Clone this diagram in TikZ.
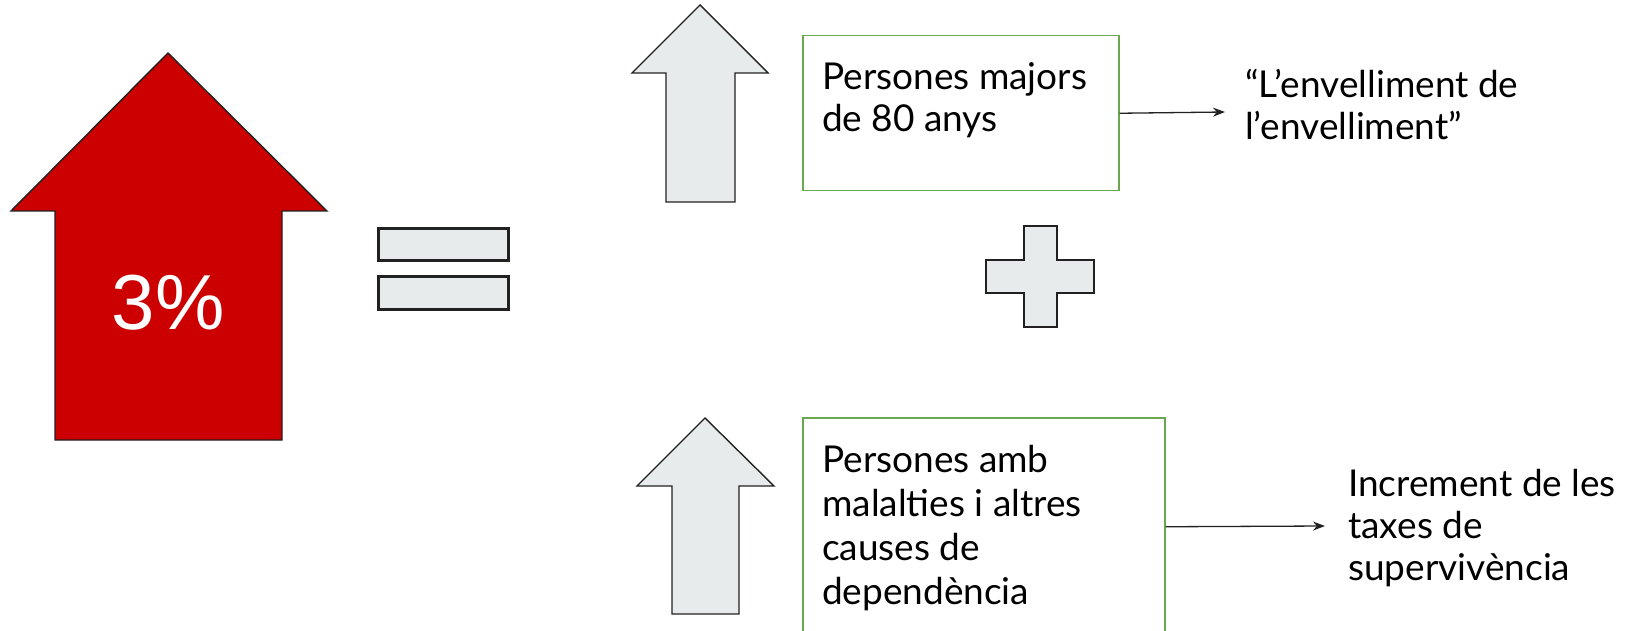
\documentclass[tikz,border=0pt]{standalone}
\usepackage{fontspec}
\setmainfont{Lato}
\newfontfamily\arialf{Liberation Sans}
\usetikzlibrary{arrows.meta}
\definecolor{bigred}{HTML}{CC0000}
\definecolor{shapegray}{HTML}{E8EBEB}
\definecolor{boxgreen}{HTML}{6AA84F}
\definecolor{outl}{HTML}{212121}
\tikzset{
  bigarrow/.style={draw=outl, line width=1.4pt, line join=miter},
  symbolshape/.style={draw=outl, fill=shapegray, line width=2.6pt},
  greenbox/.style={draw=boxgreen, line width=1.5pt, fill=none, inner sep=0pt, anchor=north west},
  txt/.style={inner sep=0pt, anchor=base west, align=left, text=black},
  conn/.style={draw=outl, line width=1.3pt, -{Stealth[length=12pt,width=9pt]}}
}
\begin{document}
\begin{tikzpicture}[x=1pt,y=-1pt]
\useasboundingbox (0,0) rectangle (1628,631);
% big red arrow
\path[bigarrow, fill=bigred] (168,53) -- (327,211) -- (282,211) -- (282,440) -- (55,440) -- (55,211) -- (11,211) -- cycle;
\node[inner sep=0pt, text=white, font={\arialf\fontsize{78}{90}\selectfont}] (pct) at (168,303) {3\%};
% equals sign
\node[symbolshape, minimum width=130, minimum height=32, inner sep=0pt, anchor=north west] (eqtop) at (377,227) {};
\node[symbolshape, minimum width=130, minimum height=33, inner sep=0pt, anchor=north west] (eqbot) at (377,275) {};
% plus sign
\path[symbolshape] (1024,226) -- (1057,226) -- (1057,260) -- (1094,260) -- (1094,293) -- (1057,293) -- (1057,327) -- (1024,327) -- (1024,293) -- (986,293) -- (986,260) -- (1024,260) -- cycle;
% top gray arrow
\path[bigarrow, fill=shapegray] (700,5) -- (768,73) -- (735,73) -- (735,202) -- (666,202) -- (666,73) -- (632,73) -- cycle;
% bottom gray arrow
\path[bigarrow, fill=shapegray] (705,418) -- (774,486) -- (739,486) -- (739,614) -- (672,614) -- (672,486) -- (637,486) -- cycle;
% boxes
\node[greenbox, minimum width=316, minimum height=155] (b1) at (802,35) {};
\node[greenbox, minimum width=362, minimum height=218] (b2) at (802,417) {};
% texts (base anchor = baseline of last line)
\node[txt, font={\fontsize{37}{42}\selectfont}] (t1) at (822,132) {Persones majors\\de 80 anys};
\node[txt, font={\fontsize{37}{44}\selectfont}] (t3) at (822,604) {Persones amb\\malalties i altres\\causes de\\dependència};
\node[txt, font={\fontsize{37}{42}\selectfont}] (t2) at (1245,140) {“L’envelliment de\\l’envelliment”};
\node[txt, font={\fontsize{37}{42}\selectfont}] (t4) at (1348,580) {Increment de les\\taxes de\\supervivència};
% connectors
\coordinate (e1) at (1225,112);
\coordinate (e2) at (1325,526);
\draw[conn] (b1.east) -- (e1);
\draw[conn] (b2.east) -- (e2);
\end{tikzpicture}
\end{document}
